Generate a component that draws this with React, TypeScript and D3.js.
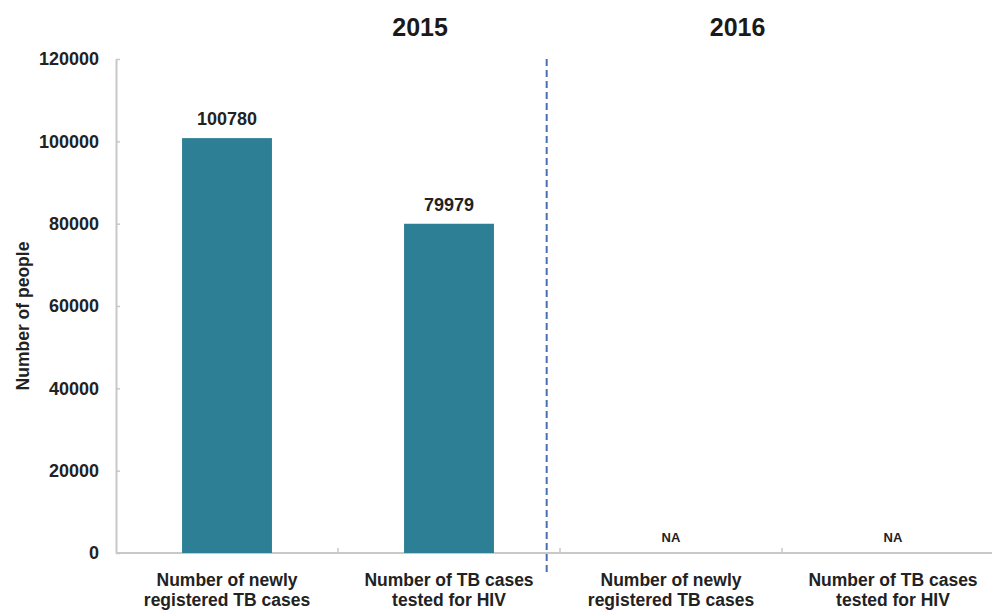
import React, { useEffect, useRef } from 'react';
import * as d3 from 'd3';

// categories (4 bars, two per year)
const categoryKeys = ['2015-new', '2015-hiv', '2016-new', '2016-hiv'];
const categoryLines = [
  ['Number of newly', 'registered TB cases'],
  ['Number of TB cases', 'tested for HIV'],
  ['Number of newly', 'registered TB cases'],
  ['Number of TB cases', 'tested for HIV'],
];
const values: (number | null)[] = [100780, 79979, null, null];
const yearTitles = ['2015', '2016'];
const yTicks = [0, 20000, 40000, 60000, 80000, 100000, 120000];

const App = () => {
  const ref = useRef<SVGSVGElement>(null);

  useEffect(() => {
    document.body.style.margin = '0';
    const width = 992;
    const height = 614;
    const font = '"Liberation Sans", Arial, sans-serif';

    const svg = d3.select(ref.current)
      .attr('width', width)
      .attr('height', height)
      .style('display', 'block')
      .style('background', '#fff');

    svg.selectAll('*').remove();

    const x = d3.scaleBand()
      .domain(categoryKeys)
      .range([116, 1004])
      .paddingInner(0)
      .paddingOuter(0);

    const y = d3.scaleLinear()
      .domain([0, 120000])
      .range([553, 59]);

    const barW = x.bandwidth() * 0.405;

    // y axis
    const yAxis = svg.append('g')
      .attr('transform', `translate(${x.range()[0]},0)`)
      .call(d3.axisLeft(y).tickValues(yTicks).tickFormat(d3.format('d')).tickSizeInner(-4).tickSizeOuter(0).tickPadding(17));
    yAxis.select('.domain').attr('stroke', '#c8c8c8').attr('stroke-width', 2);
    yAxis.selectAll('.tick line').attr('stroke', '#c8c8c8').attr('stroke-width', 1.5);
    yAxis.selectAll('.tick text')
      .attr('fill', '#222')
      .style('font-family', font)
      .style('font-size', '18px')
      .style('font-weight', 'bold');

    // x axis line
    svg.append('line')
      .attr('x1', x.range()[0]).attr('x2', x.range()[1])
      .attr('y1', y(0)).attr('y2', y(0))
      .attr('stroke', '#c8c8c8').attr('stroke-width', 2);

    // boundary ticks between categories
    svg.selectAll('.xtick')
      .data(categoryKeys.slice(1))
      .enter().append('line')
      .attr('class', 'xtick')
      .attr('x1', d => x(d)!).attr('x2', d => x(d)!)
      .attr('y1', y(0)).attr('y2', y(0) - 5)
      .attr('stroke', '#c8c8c8').attr('stroke-width', 1.5);

    // bars
    const data = categoryKeys.map((k, i) => ({ key: k, value: values[i], lines: categoryLines[i] }));
    svg.selectAll('.bar')
      .data(data.filter(d => d.value !== null))
      .enter().append('rect')
      .attr('class', 'bar')
      .attr('x', d => x(d.key)! + (x.bandwidth() - barW) / 2)
      .attr('width', barW)
      .attr('y', d => y(d.value as number))
      .attr('height', d => y(0) - y(d.value as number))
      .attr('fill', '#2c7f95');

    // value labels
    svg.selectAll('.val')
      .data(data)
      .enter().append('text')
      .attr('class', 'val')
      .attr('x', d => x(d.key)! + x.bandwidth() / 2)
      .attr('y', d => d.value === null ? y(0) - 11 : y(d.value) - 13)
      .attr('text-anchor', 'middle')
      .attr('fill', '#222')
      .style('font-family', font)
      .style('font-weight', 'bold')
      .style('font-size', d => d.value === null ? '13px' : '18px')
      .text(d => d.value === null ? 'NA' : String(d.value));

    // category labels
    const cat = svg.selectAll('.cat')
      .data(data)
      .enter().append('text')
      .attr('class', 'cat')
      .attr('text-anchor', 'middle')
      .attr('fill', '#222')
      .style('font-family', font)
      .style('font-weight', 'bold')
      .style('font-size', '17.5px');
    cat.each(function (d) {
      const t = d3.select(this);
      d.lines.forEach((ln, j) => {
        t.append('tspan')
          .attr('x', x(d.key)! + x.bandwidth() / 2)
          .attr('y', 586 + j * 20)
          .text(ln);
      });
    });

    // year divider
    const divX = x(categoryKeys[2])! - x.bandwidth() * 0.06;
    svg.append('line')
      .attr('x1', divX).attr('x2', divX)
      .attr('y1', y(120000)).attr('y2', 574)
      .attr('stroke', '#4a6fb0')
      .attr('stroke-width', 2)
      .attr('stroke-dasharray', '7,4');

    // year titles
    const titleX = [x(categoryKeys[1])! + x.bandwidth() * 0.37, x(categoryKeys[3])! - x.bandwidth() * 0.2];
    svg.selectAll('.year')
      .data(yearTitles)
      .enter().append('text')
      .attr('class', 'year')
      .attr('x', (d, i) => titleX[i])
      .attr('y', 36)
      .attr('text-anchor', 'middle')
      .attr('fill', '#1a1a1a')
      .style('font-family', font)
      .style('font-weight', 'bold')
      .style('font-size', '25px')
      .text(d => d);

    // y axis title
    svg.append('text')
      .attr('transform', `translate(29,${(y(0) + y(120000)) / 2 + 10}) rotate(-90)`)
      .attr('text-anchor', 'middle')
      .attr('fill', '#222')
      .style('font-family', font)
      .style('font-weight', 'bold')
      .style('font-size', '17.5px')
      .text('Number of people');
  }, []);

  return <svg ref={ref}></svg>;
};

export default App;
